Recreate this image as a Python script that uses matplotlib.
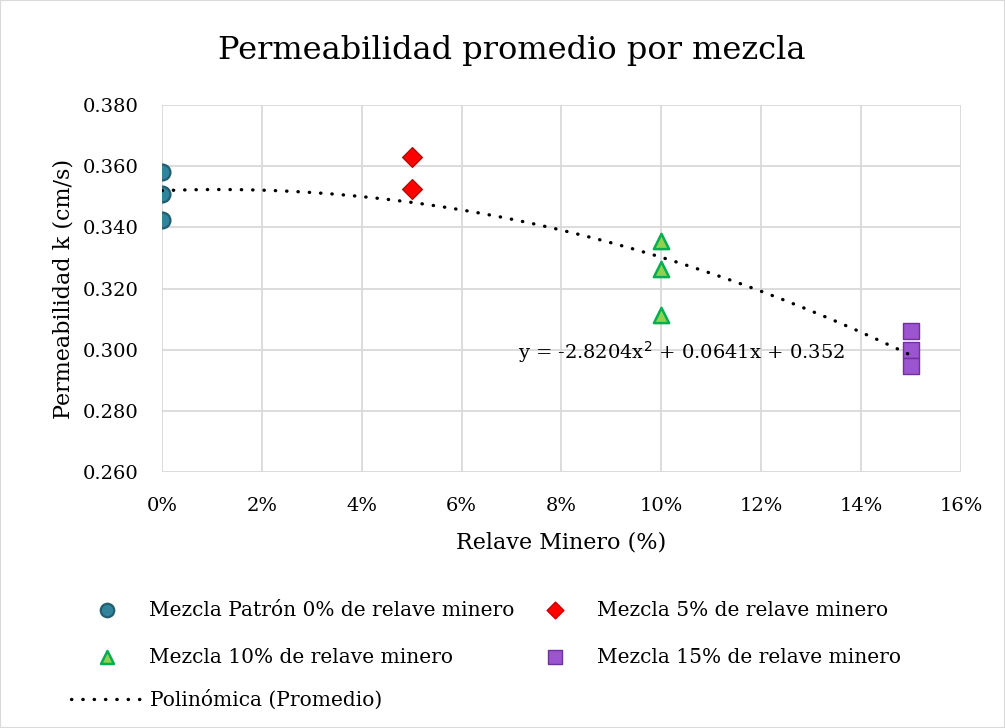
import matplotlib
matplotlib.use("Agg")
from matplotlib import pyplot as plt
from matplotlib.ticker import FuncFormatter
import numpy as np

plt.rcParams['font.family'] = ['DejaVu Serif']

# data
x_0 = [0.0, 0.0, 0.0]
k_0 = [0.3581, 0.3509, 0.3424]
x_5 = [0.05, 0.05]
k_5 = [0.3630, 0.3525]
x_10 = [0.10, 0.10, 0.10]
k_10 = [0.3355, 0.3264, 0.3113]
x_15 = [0.15, 0.15, 0.15]
k_15 = [0.3061, 0.2999, 0.2947]
trend_coef = [-2.8204, 0.0641, 0.352]   # polynomial trendline (average)

labels = ["Mezcla Patrón 0% de relave minero", "Mezcla 5% de relave minero",
          "Mezcla 10% de relave minero", "Mezcla 15% de relave minero"]

fig = plt.figure(figsize=(10.05, 7.28), dpi=100)
ax = fig.add_axes([0.1612, 0.3516, 0.795, 0.5042])

h0 = ax.scatter(x_0, k_0, s=130, marker="o", color="#31849B", edgecolor="#215F70", linewidth=1.6, zorder=3)
h5 = ax.scatter(x_5, k_5, s=100, marker="D", color="#FF0000", edgecolor="#C00000", linewidth=1.0, zorder=3)
h10 = ax.scatter(x_10, k_10, s=120, marker="^", color="#92D050", edgecolor="#00B050", linewidth=1.8, zorder=3)
h15 = ax.scatter(x_15, k_15, s=140, marker="s", color="#9B55D0", edgecolor="#7030A0", linewidth=1.0, zorder=3)

xt = np.linspace(0, 0.15, 200)
ln, = ax.plot(xt, np.polyval(trend_coef, xt), color="black", lw=2.4,
              linestyle=(0, (0.1, 3.3)), dash_capstyle="round", zorder=4)

ax.text(0.0713, 0.2993, "y = -2.8204x$^2$ + 0.0641x + 0.352", fontsize=14,
        va="center", ha="left")

ax.set_xlim(0, 0.16)
ax.set_ylim(0.26, 0.38)
ax.set_xticks(np.arange(0, 0.161, 0.02))
ax.set_yticks(np.arange(0.26, 0.381, 0.02))
ax.xaxis.set_major_formatter(FuncFormatter(lambda v, p: "%d%%" % round(v * 100)))
ax.yaxis.set_major_formatter(FuncFormatter(lambda v, p: "%.3f" % v))
ax.tick_params(length=0, labelsize=14)
ax.tick_params(axis="x", pad=18)
ax.tick_params(axis="y", pad=17)
ax.grid(True, color="#d9d9d9", lw=1.3)
ax.set_axisbelow(True)
for s in ax.spines.values():
    s.set_visible(False)

fig.text(0.509, 0.931, "Permeabilidad promedio por mezcla", fontsize=23,
         ha="center", va="center")
ax.set_xlabel("Relave Minero (%)", fontsize=16, labelpad=12)
ax.set_ylabel("Permeabilidad k (cm/s)", fontsize=16, labelpad=6)

# column-major order so 0% / 5% sit on the first row
fig.legend([h0, h10, h5, h15], [labels[0], labels[2], labels[1], labels[3]],
           ncol=2, loc="upper left", bbox_to_anchor=(0.068, 0.2),
           frameon=False, fontsize=14.5, handletextpad=1.1, markerscale=0.85,
           columnspacing=1.0, labelspacing=1.4)
fig.legend([ln], ["Polinómica (Promedio)"], loc="upper left",
           bbox_to_anchor=(0.053, 0.078), frameon=False, fontsize=14.5,
           handlelength=3.8, handletextpad=0.1)

fig.patches.append(plt.Rectangle((0, 0), 1, 1, transform=fig.transFigure,
                                 fill=False, edgecolor="#d9d9d9", lw=1.5))

fig.savefig("out.png", dpi=100)
